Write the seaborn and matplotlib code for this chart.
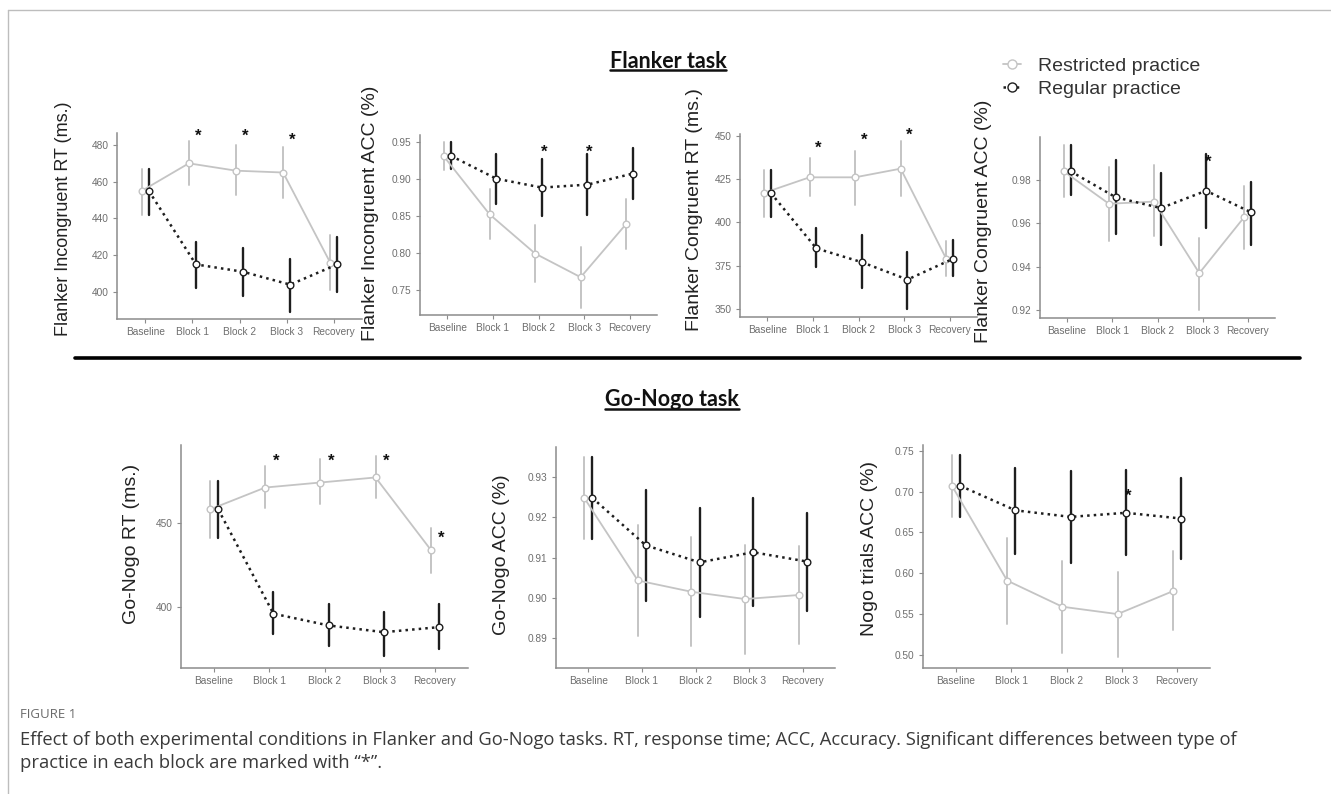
import numpy as np
import pandas as pd
import matplotlib
matplotlib.use("Agg")
import matplotlib.pyplot as plt
import seaborn as sns
from matplotlib.lines import Line2D

# ---------------- data ----------------
categories = ["Baseline", "Block 1", "Block 2", "Block 3", "Recovery"]
conditions = ["Restricted practice", "Regular practice"]

# Flanker incongruent RT (ms.)
fir_res_mean = [455, 470, 466, 465, 416]
fir_res_lo = [442, 458, 453, 451, 401]
fir_res_hi = [467, 482, 480, 479, 431]
fir_reg_mean = [455, 415, 411, 404, 415]
fir_reg_lo = [442, 402, 398, 389, 400]
fir_reg_hi = [467, 427, 424, 418, 430]
fir_star_idx = [1, 2, 3]
fir_star_y = [484.5, 484.5, 482.5]

# Flanker incongruent ACC
fia_res_mean = [0.930, 0.852, 0.799, 0.767, 0.839]
fia_res_lo = [0.912, 0.818, 0.760, 0.726, 0.805]
fia_res_hi = [0.949, 0.886, 0.837, 0.808, 0.873]
fia_reg_mean = [0.931, 0.900, 0.888, 0.892, 0.907]
fia_reg_lo = [0.913, 0.866, 0.849, 0.851, 0.873]
fia_reg_hi = [0.949, 0.934, 0.927, 0.933, 0.941]
fia_star_idx = [2, 3]
fia_star_y = [0.936, 0.936]

# Flanker congruent RT (ms.)
fcr_res_mean = [417, 426, 426, 431, 379]
fcr_res_lo = [403, 415, 410, 415, 369]
fcr_res_hi = [430, 437, 441, 447, 389]
fcr_reg_mean = [417, 385, 377, 367, 379]
fcr_reg_lo = [403, 374, 362, 350, 369]
fcr_reg_hi = [430, 397, 393, 383, 390]
fcr_star_idx = [1, 2, 3]
fcr_star_y = [443.0, 447.5, 450.0]

# Flanker congruent ACC
fca_res_mean = [0.984, 0.969, 0.970, 0.937, 0.963]
fca_res_lo = [0.972, 0.952, 0.954, 0.920, 0.948]
fca_res_hi = [0.996, 0.986, 0.987, 0.953, 0.977]
fca_reg_mean = [0.984, 0.972, 0.967, 0.975, 0.965]
fca_reg_lo = [0.973, 0.955, 0.950, 0.958, 0.950]
fca_reg_hi = [0.996, 0.989, 0.983, 0.992, 0.979]
fca_star_idx = [3]
fca_star_y = [0.988]

# Go-Nogo RT (ms.)
gnr_res_mean = [458, 471, 474, 477, 434]
gnr_res_lo = [441, 459, 461, 465, 420]
gnr_res_hi = [475, 484, 488, 490, 447]
gnr_reg_mean = [458, 396, 389, 385, 388]
gnr_reg_lo = [441, 384, 377, 371, 375]
gnr_reg_hi = [475, 409, 402, 397, 402]
gnr_star_idx = [1, 2, 3, 4]
gnr_star_y = [486.5, 486.5, 486.5, 441.0]

# Go-Nogo ACC
gna_res_mean = [0.9248, 0.9043, 0.9015, 0.8997, 0.9007]
gna_res_lo = [0.9145, 0.8905, 0.8880, 0.8860, 0.8885]
gna_res_hi = [0.9350, 0.9180, 0.9150, 0.9130, 0.9128]
gna_reg_mean = [0.9248, 0.9130, 0.9088, 0.9113, 0.9090]
gna_reg_lo = [0.9145, 0.8993, 0.8953, 0.8980, 0.8968]
gna_reg_hi = [0.9350, 0.9267, 0.9222, 0.9248, 0.9210]
gna_star_idx = []
gna_star_y = []

# Nogo trials ACC
nta_res_mean = [0.707, 0.591, 0.559, 0.550, 0.578]
nta_res_lo = [0.669, 0.538, 0.502, 0.498, 0.530]
nta_res_hi = [0.745, 0.643, 0.615, 0.602, 0.627]
nta_reg_mean = [0.707, 0.677, 0.669, 0.674, 0.667]
nta_reg_lo = [0.669, 0.624, 0.612, 0.622, 0.618]
nta_reg_hi = [0.745, 0.729, 0.725, 0.726, 0.716]
nta_star_idx = [3]
nta_star_y = [0.694]

ylabels = ["Flanker Incongruent RT (ms.)", "Flanker Incongruent ACC (%)",
           "Flanker Congruent RT (ms.)", "Flanker Congruent ACC (%)",
           "Go-Nogo RT (ms.)", "Go-Nogo ACC (%)", "Nogo trials ACC (%)"]

# ---------------- style ----------------
sns.set_theme(style="ticks")
plt.rcParams["font.family"] = ["Liberation Sans", "DejaVu Sans"]

RES_C = "#c4c4c4"
REG_C = "#1e1e1e"
W, H = 1331, 794

fig = plt.figure(figsize=(W / 100, H / 100), dpi=100)
fig.patch.set_facecolor("white")


def long_df(res_m, res_lo, res_hi, reg_m, reg_lo, reg_hi):
    rows = []
    for cond, m, lo, hi in [(conditions[0], res_m, res_lo, res_hi),
                            (conditions[1], reg_m, reg_lo, reg_hi)]:
        for c, a, b, d in zip(categories, lo, m, hi):
            for v in (a, b, d):
                rows.append({"block": c, "cond": cond, "value": v})
    return pd.DataFrame(rows)


panels = [
    dict(data=(fir_res_mean, fir_res_lo, fir_res_hi, fir_reg_mean, fir_reg_lo, fir_reg_hi),
         stars=(fir_star_idx, fir_star_y), box=(117, 362, 133, 319),
         ylim=(385.3, 486.5), yticks=[400, 420, 440, 460, 480], fmt="{:.0f}",
         labx=72, laby=219, labfs=13),
    dict(data=(fia_res_mean, fia_res_lo, fia_res_hi, fia_reg_mean, fia_reg_lo, fia_reg_hi),
         stars=(fia_star_idx, fia_star_y), box=(420, 657, 135, 315),
         ylim=(0.716, 0.959), yticks=[0.75, 0.80, 0.85, 0.90, 0.95], fmt="{:.2f}",
         labx=379, laby=213, labfs=14),
    dict(data=(fcr_res_mean, fcr_res_lo, fcr_res_hi, fcr_reg_mean, fcr_reg_lo, fcr_reg_hi),
         stars=(fcr_star_idx, fcr_star_y), box=(740, 977, 134, 317),
         ylim=(345.4, 451.0), yticks=[350, 375, 400, 425, 450], fmt="{:.0f}",
         labx=703, laby=210, labfs=14),
    dict(data=(fca_res_mean, fca_res_lo, fca_res_hi, fca_reg_mean, fca_reg_lo, fca_reg_hi),
         stars=(fca_star_idx, fca_star_y), box=(1040, 1275, 137, 318),
         ylim=(0.9163, 0.9998), yticks=[0.92, 0.94, 0.96, 0.98], fmt="{:.2f}",
         labx=992, laby=221, labfs=14),
    dict(data=(gnr_res_mean, gnr_res_lo, gnr_res_hi, gnr_reg_mean, gnr_reg_lo, gnr_reg_hi),
         stars=(gnr_star_idx, gnr_star_y), box=(181, 468, 445, 668),
         ylim=(363.7, 496.3), yticks=[400, 450], fmt="{:.0f}",
         labx=140, laby=544, labfs=14),
    dict(data=(gna_res_mean, gna_res_lo, gna_res_hi, gna_reg_mean, gna_reg_lo, gna_reg_hi),
         stars=(gna_star_idx, gna_star_y), box=(556, 835, 447, 668),
         ylim=(0.8826, 0.9374), yticks=[0.89, 0.90, 0.91, 0.92, 0.93], fmt="{:.2f}",
         labx=510, laby=555, labfs=14),
    dict(data=(nta_res_mean, nta_res_lo, nta_res_hi, nta_reg_mean, nta_reg_lo, nta_reg_hi),
         stars=(nta_star_idx, nta_star_y), box=(923, 1210, 445, 668),
         ylim=(0.484, 0.757), yticks=[0.50, 0.55, 0.60, 0.65, 0.70, 0.75], fmt="{:.2f}",
         labx=878, laby=548, labfs=14),
]

for p, ylab in zip(panels, ylabels):
    l, r, t, b = p["box"]
    ax = fig.add_axes([l / W, 1 - b / H, (r - l) / W, (b - t) / H])
    df = long_df(*p["data"])
    sns.pointplot(data=df, x="block", y="value", hue="cond", order=categories,
                  hue_order=conditions, palette=[RES_C, REG_C],
                  estimator=np.median, errorbar=lambda v: (v.min(), v.max()),
                  markers=["o", "o"], linestyles=["-", ":"], dodge=0.15,
                  err_kws={"linewidth": 1.5}, legend=False, ax=ax)
    for ln in ax.lines:
        col = matplotlib.colors.to_hex(ln.get_color())
        is_reg = col.lower() == REG_C
        if ln.get_marker() not in (None, "None", "", " "):
            ln.set_markerfacecolor("white")
            ln.set_markeredgecolor(REG_C if is_reg else RES_C)
            ln.set_markersize(4.8)
            ln.set_markeredgewidth(1.0)
            ln.set_linewidth(1.8 if is_reg else 1.3)
            ln.set_zorder(4 if is_reg else 3)
        else:
            ln.set_linewidth(1.7 if is_reg else 1.4)
            ln.set_zorder(2.5 if is_reg else 2)
    sidx, sy = p["stars"]
    for i, yv in zip(sidx, sy):
        ax.text(i + 0.12, yv, "*", ha="center", va="center", fontsize=12,
                fontweight="bold", color="#111")
    ax.set_xlim(-0.6, 4.6)
    ax.set_ylim(*p["ylim"])
    ax.set_yticks(p["yticks"])
    ax.set_yticklabels([p["fmt"].format(v) for v in p["yticks"]])
    ax.set_xlabel("")
    ax.set_ylabel(ylab, fontsize=p["labfs"], color="#222")
    ax.yaxis.set_label_coords((p["labx"] - l) / (r - l), (b - p["laby"]) / (b - t))
    sns.despine(ax=ax)
    for s in ("left", "bottom"):
        ax.spines[s].set_color("#8c8c8c")
        ax.spines[s].set_linewidth(1.1)
    ax.tick_params(axis="both", labelsize=7.3, labelcolor="#6e6e6e",
                   color="#8c8c8c", length=3, width=0.8, pad=3)
    ax.patch.set_alpha(0)

# ---------------- titles, separator, legend ----------------
t1 = fig.text(668 / W, 1 - 61 / H, "Flanker task", ha="center", va="center",
              fontsize=15.5, fontweight="bold", family="Lato", color="#111")
t2 = fig.text(672 / W, 1 - 400 / H, "Go-Nogo task", ha="center", va="center",
              fontsize=15.5, fontweight="bold", family="Lato", color="#111")
fig.add_artist(Line2D([75 / W, 1300 / W], [1 - 358 / H, 1 - 358 / H],
                      color="black", linewidth=2.6))

# frame lines
fig.add_artist(Line2D([8 / W, 1.0], [1 - 10 / H, 1 - 10 / H], color="#bdbdbd", linewidth=1))
fig.add_artist(Line2D([8 / W, 8 / W], [0, 1 - 10 / H], color="#bdbdbd", linewidth=1))

handles = [Line2D([], [], color=RES_C, linestyle="-", linewidth=1.3, marker="o",
                  markersize=6.5, markerfacecolor="white", markeredgecolor=RES_C),
           Line2D([], [], color=REG_C, linestyle=":", linewidth=1.8, marker="o",
                  markersize=6.5, markerfacecolor="white", markeredgecolor=REG_C)]
fig.legend(handles, conditions, loc="center left",
           bbox_to_anchor=(1003 / W, 1 - 77.5 / H), frameon=False, fontsize=14,
           handlelength=0.9, handletextpad=0.9, labelspacing=0.3,
           borderpad=0, borderaxespad=0, labelcolor="#333")

# caption
fig.text(20 / W, 1 - 714 / H, "FIGURE 1", ha="left", va="center", fontsize=9.5,
         family="Open Sans", color="#6a6a6a")
fig.text(20 / W, 1 - 740 / H,
         "Effect of both experimental conditions in Flanker and Go-Nogo tasks. RT, response time; ACC, Accuracy. Significant differences between type of",
         ha="left", va="center", fontsize=13.2, family="Open Sans", color="#3a3a3a")
fig.text(20 / W, 1 - 763 / H, "practice in each block are marked with \u201c*\u201d.",
         ha="left", va="center", fontsize=13.2, family="Open Sans", color="#3a3a3a")

# underline the section titles
fig.canvas.draw()
renderer = fig.canvas.get_renderer()
for t in (t1, t2):
    bb = t.get_window_extent(renderer)
    yy = (bb.y0 + 1.5) / H
    fig.add_artist(Line2D([bb.x0 / W, bb.x1 / W], [yy, yy], color="#111", linewidth=1.8))

fig.savefig("out.png", dpi=100)
